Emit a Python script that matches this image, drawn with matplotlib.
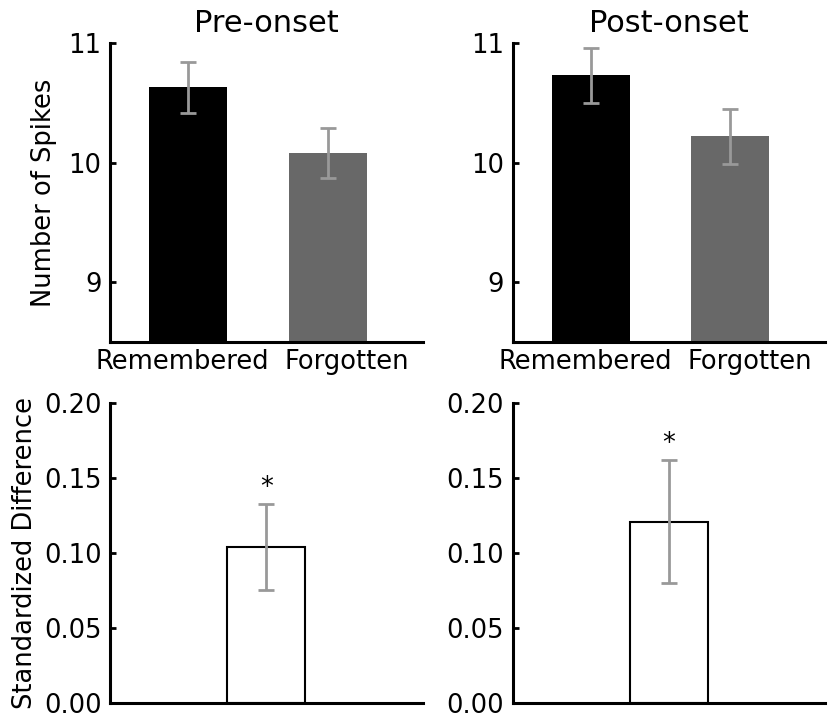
import matplotlib
matplotlib.use("Agg")
import matplotlib.pyplot as plt

# --------------------------------------------------
# DATA
# --------------------------------------------------
conditions = ["Remembered", "Forgotten"]
panel_titles = ["Pre-onset", "Post-onset"]

pre_spikes = [10.63, 10.08]
pre_spikes_err = [0.21, 0.21]
post_spikes = [10.73, 10.22]
post_spikes_err = [0.23, 0.23]

std_diff = [0.104, 0.121]
std_diff_err = [0.029, 0.041]

spike_ticks = [9, 10, 11]
diff_ticks = [0.00, 0.05, 0.10, 0.15, 0.20]

# --------------------------------------------------
# STYLE
# --------------------------------------------------
plt.rcParams["font.family"] = ["DejaVu Sans"]
BAR_COLORS = ["#000000", "#686868"]
ERR_COLOR = "#999999"
FS = 18.5


def style_axes(ax):
    for side in ["top", "right"]:
        ax.spines[side].set_visible(False)
    for side in ["left", "bottom"]:
        ax.spines[side].set_linewidth(2.2)
    ax.tick_params(axis="y", direction="in", length=4.5, width=2,
                   labelsize=FS, pad=6)
    ax.tick_params(axis="x", length=0, labelsize=FS, pad=5)


fig = plt.figure(figsize=(8.32, 7.2), dpi=100)

left_x = [0.132, 0.616]
w = 0.376
top_y, top_h = 0.525, 0.415
bot_y, bot_h = 0.024, 0.416

spike_data = [(pre_spikes, pre_spikes_err), (post_spikes, post_spikes_err)]

# --------------------------------------------------
# TOP ROW: number of spikes
# --------------------------------------------------
for i in range(2):
    ax = fig.add_axes([left_x[i], top_y, w, top_h])
    vals, errs = spike_data[i]
    ax.bar([0, 1], vals, width=0.56, color=BAR_COLORS,
           yerr=errs, ecolor=ERR_COLOR,
           error_kw=dict(elinewidth=2, capsize=6, capthick=2))
    ax.set_xlim(-0.56, 1.68)
    ax.set_ylim(8.5, 11)
    ax.set_yticks(spike_ticks)
    # labels sit slightly spread apart from the bar centres
    ax.set_xticks([-0.04, 1.14])
    ax.set_xticklabels(conditions)
    ax.set_title(panel_titles[i], fontsize=22, pad=8)
    style_axes(ax)
    if i == 0:
        ax.set_ylabel("Number of Spikes", fontsize=FS, labelpad=8)

# --------------------------------------------------
# BOTTOM ROW: standardized difference
# --------------------------------------------------
for i in range(2):
    ax = fig.add_axes([left_x[i], bot_y, w, bot_h])
    ax.bar([0], [std_diff[i]], width=0.56, color="white",
           edgecolor="black", linewidth=1.5,
           yerr=[std_diff_err[i]], ecolor=ERR_COLOR,
           error_kw=dict(elinewidth=2, capsize=6, capthick=2))
    ax.text(0, std_diff[i] + std_diff_err[i] + 0.002, "*",
            ha="center", va="bottom", fontsize=FS)
    ax.set_xlim(-1.12, 1.12)
    ax.set_ylim(0, 0.2)
    ax.set_yticks(diff_ticks)
    ax.set_yticklabels([f"{t:.2f}" for t in diff_ticks])
    ax.set_xticks([])
    style_axes(ax)
    if i == 0:
        ax.set_ylabel("Standardized Difference", fontsize=FS, labelpad=4)

fig.savefig("out.png", dpi=100)
plt.close(fig)
